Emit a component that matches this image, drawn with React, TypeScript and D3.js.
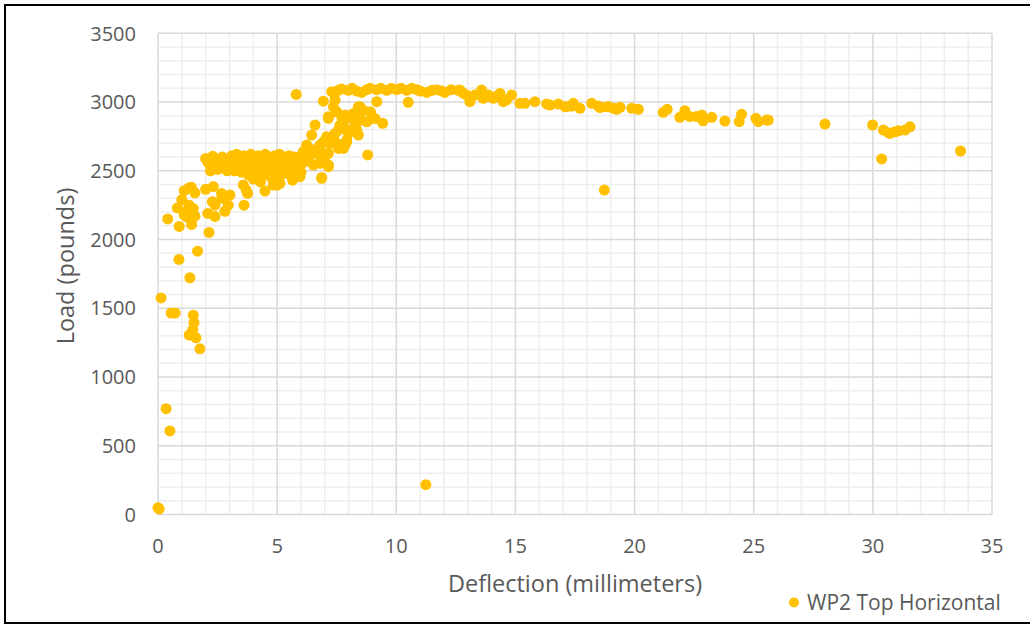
import React from 'react';
import * as d3 from 'd3';

const width = 1030;
const height = 626;
const plot = { left: 158, right: 992, top: 33.3, bottom: 514.5 };
const gold = '#FFC000';
const textColor = '#595959';
const font = '"Open Sans", sans-serif';

// [deflection mm, load lb]
const initialLoading = [
  [0.0, 50], [0.05, 40], [0.13, 1575], [0.34, 770], [0.5, 608], [0.55, 1465], [0.72, 1465],
  [0.41, 2150], [0.88, 1855], [0.89, 2095], [0.81, 2230], [1.0, 2290], [1.1, 2355], [1.3, 2375],
  [1.4, 2380], [1.55, 2340], [1.13, 2200], [1.2, 2165], [1.48, 2225], [1.55, 2170], [1.41, 2110],
  [1.34, 1722], [1.66, 1915], [1.48, 1450], [1.51, 1395], [1.46, 1342], [1.31, 1305], [1.59, 1285],
  [1.76, 1205], [1.1, 2180], [1.3, 2250],
];

const transition = [
  [2.0, 2365], [2.32, 2385], [2.28, 2275], [2.39, 2250], [2.09, 2190], [2.39, 2168], [2.14, 2052],
  [2.67, 2335], [3.02, 2323], [2.67, 2300], [2.95, 2250], [2.81, 2205], [3.61, 2250], [3.76, 2335],
  [3.58, 2397], [3.7, 2360], [4.49, 2353], [4.84, 2396], [5.0, 2395], [5.12, 2409], [5.65, 2432],
  [5.96, 2457], [4.3, 2420],
];

const plateau = [
  [2.0, 2590], [2.1, 2560], [2.2, 2500], [2.3, 2605], [2.4, 2540], [2.5, 2510], [2.6, 2570],
  [2.7, 2600], [2.8, 2530], [2.9, 2500], [3.0, 2580], [3.1, 2610], [3.1, 2550], [3.2, 2500],
  [3.3, 2620], [3.3, 2570], [3.4, 2530], [3.5, 2590], [3.5, 2490], [3.6, 2610], [3.6, 2550],
  [3.7, 2510], [3.8, 2580], [3.8, 2470], [3.9, 2620], [3.9, 2540], [4.0, 2500], [4.0, 2440],
  [4.1, 2590], [4.1, 2560], [4.2, 2610], [4.2, 2480], [4.3, 2530], [4.3, 2450], [4.4, 2580],
  [4.4, 2500], [4.5, 2620], [4.5, 2550], [4.6, 2470], [4.6, 2600], [4.7, 2520], [4.8, 2570],
  [4.8, 2440], [4.9, 2610], [4.9, 2490], [5.0, 2540], [5.0, 2580], [5.1, 2460], [5.1, 2620],
  [5.2, 2510], [5.3, 2570], [5.3, 2600], [5.4, 2480], [5.4, 2540], [5.5, 2610], [5.5, 2520],
  [5.6, 2570], [5.6, 2490], [5.7, 2550], [5.7, 2600], [5.8, 2510], [5.9, 2580], [5.9, 2530],
  [6.0, 2610], [6.0, 2490], [6.1, 2560],
];

const hardening = [
  [6.1, 2639], [6.03, 2566], [6.24, 2687], [6.31, 2591], [6.38, 2660], [6.45, 2760], [6.52, 2542],
  [6.52, 2651], [6.59, 2833], [6.73, 2615], [6.8, 2687], [6.8, 2554], [6.87, 2452], [6.87, 2615],
  [6.94, 2711], [6.94, 2627], [7.08, 2748], [7.08, 2615], [7.15, 2542], [7.15, 2530], [7.15, 2627],
  [7.15, 2882], [7.22, 2700], [7.36, 2736], [7.43, 2772], [7.5, 2700], [7.57, 2796], [7.57, 2663],
  [7.64, 2832], [7.64, 2808], [7.78, 2663], [7.78, 2820], [7.85, 2687], [7.92, 2711], [7.92, 2723],
  [7.99, 2772], [8.2, 2808], [8.41, 2760], [6.94, 3006], [7.15, 2893], [7.36, 2965], [7.43, 3015],
  [7.5, 2929], [7.71, 2893], [7.85, 2905], [7.99, 2881], [8.2, 2917], [8.34, 2796], [8.34, 2845],
  [8.41, 2965], [8.48, 2881], [8.48, 2965], [8.62, 2941], [8.76, 2856], [8.8, 2615], [8.92, 2929],
  [8.97, 2881], [9.11, 2880], [9.18, 3003], [9.43, 2845], [5.8, 3055], [6.87, 2445],
];

const peak = [
  [7.29, 3075], [7.57, 3085], [7.7, 3095], [7.99, 3085], [8.15, 3100], [8.34, 3080], [8.55, 3070],
  [8.76, 3090], [8.9, 3100], [9.18, 3090], [9.35, 3100], [9.6, 3085], [9.8, 3100], [10.02, 3090],
  [10.2, 3100], [10.44, 3085], [10.65, 3100], [10.86, 3090], [11.0, 3080], [11.28, 3070],
  [11.5, 3085], [11.7, 3090], [11.9, 3080], [12.04, 3070], [12.3, 3090], [12.6, 3085],
  [12.8, 3065], [10.5, 2998],
];

const softening = [
  [12.67, 3087], [12.95, 3051], [13.09, 3003], [13.3, 3051], [13.58, 3087], [13.65, 3027],
  [13.86, 3051], [13.93, 3040], [14.07, 3027], [14.28, 3051], [14.35, 3063], [14.49, 3003],
  [14.63, 3015], [14.84, 3051], [15.19, 2991], [15.4, 2991], [15.82, 3003], [16.31, 2986],
  [16.45, 2978], [16.8, 2985], [17.08, 2966], [17.15, 2966], [17.36, 2970], [17.43, 2991],
  [17.71, 2954], [18.2, 2991], [18.48, 2971], [18.55, 2960], [18.83, 2966], [18.9, 2966],
  [19.11, 2954], [19.25, 2947], [19.39, 2962], [19.88, 2954], [20.16, 2947], [21.2, 2925],
  [21.37, 2947], [21.9, 2889], [22.11, 2937], [22.32, 2894], [22.6, 2894], [22.82, 2905],
  [22.88, 2864], [23.24, 2889], [23.79, 2862], [24.39, 2857], [24.49, 2911], [25.09, 2882],
  [25.19, 2857], [25.54, 2869], [25.61, 2869], [27.99, 2840], [29.99, 2833], [30.44, 2796],
  [30.65, 2777], [30.72, 2772], [30.93, 2784], [31.07, 2791], [31.35, 2796], [31.56, 2820],
  [30.37, 2586], [33.68, 2644], [18.73, 2360], [11.24, 217],
];

const seriesName = 'WP2 Top Horizontal';
const xTicks = [0, 5, 10, 15, 20, 25, 30, 35];
const yTicks = [0, 500, 1000, 1500, 2000, 2500, 3000, 3500];
const xTitle = 'Deflection (millimeters)';
const yTitle = 'Load (pounds)';

const points = [...initialLoading, ...transition, ...plateau, ...hardening, ...peak, ...softening];

export default function App() {
  const x = d3.scaleLinear().domain([0, 35]).range([plot.left, plot.right]);
  const y = d3.scaleLinear().domain([0, 3500]).range([plot.bottom, plot.top]);

  // minor grid every 1 mm / 100 lb, major at the labelled ticks
  const xMinor = d3.range(0, 36).filter((v) => v % 5 !== 0);
  const yMinor = d3.range(0, 3600, 100).filter((v) => v % 500 !== 0);

  return (
    <svg width={width} height={height} style={{ position: 'absolute', left: 0, top: 0, background: '#fff' }}>
      <rect x={0} y={0} width={width} height={height} fill="#fff" />
      <rect x={5} y={5} width={1040} height={618} fill="none" stroke="#000" strokeWidth={2} />

      <g>
        {xMinor.map((v) => (
          <line key={'xm' + v} x1={x(v)} x2={x(v)} y1={y(3500)} y2={y(0)} stroke="#eeeeee" strokeWidth={1.5} />
        ))}
        {yMinor.map((v) => (
          <line key={'ym' + v} x1={x(0)} x2={x(35)} y1={y(v)} y2={y(v)} stroke="#eeeeee" strokeWidth={1.5} />
        ))}
        {xTicks.map((v) => (
          <line key={'xM' + v} x1={x(v)} x2={x(v)} y1={y(3500)} y2={y(0)} stroke="#d9d9d9" strokeWidth={1.5} />
        ))}
        {yTicks.map((v) => (
          <line key={'yM' + v} x1={x(0)} x2={x(35)} y1={y(v)} y2={y(v)} stroke="#d9d9d9" strokeWidth={1.5} />
        ))}
      </g>

      <g fontFamily={font} fontSize={20} fill={textColor}>
        {xTicks.map((v) => (
          <text key={'xt' + v} x={x(v)} y={553} textAnchor="middle">{v}</text>
        ))}
        {yTicks.map((v) => (
          <text key={'yt' + v} x={136} y={y(v)} dy="0.36em" textAnchor="end">{v}</text>
        ))}
        <text x={(plot.left + plot.right) / 2} y={592} textAnchor="middle" fontSize={23.5}>{xTitle}</text>
        <text transform={`translate(74, 266) rotate(-90)`} textAnchor="middle" fontSize={23.5}>{yTitle}</text>
      </g>

      <g fill={gold}>
        {points.map((d, i) => (
          <circle key={i} cx={x(d[0])} cy={y(d[1])} r={5.5} />
        ))}
      </g>

      <g fontFamily={font} fontSize={21} fill={textColor}>
        <circle cx={794} cy={602.5} r={5} fill={gold} />
        <text x={807} y={609.5}>{seriesName}</text>
      </g>
    </svg>
  );
}
